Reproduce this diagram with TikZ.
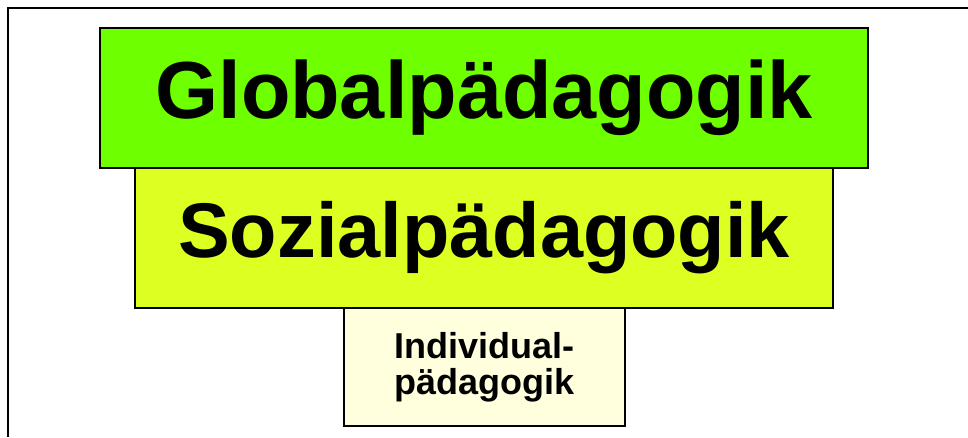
\documentclass[tikz,border=0pt]{standalone}
\usepackage{fontspec}
\setmainfont{Liberation Sans}
\definecolor{globalgreen}{RGB}{110,255,0}
\definecolor{sozialyellow}{RGB}{221,255,34}
\definecolor{indivcream}{RGB}{255,255,221}
\tikzset{
  levelbox/.style={draw=black, line width=2pt, inner sep=0pt, align=center, font=\bfseries},
  framestroke/.style={draw=black, line width=2pt}
}
\begin{document}
\begin{tikzpicture}[x=1pt,y=-1pt]
  \useasboundingbox (0,0) rectangle (968,437);
  % outer frame (open at right and bottom)
  \draw[framestroke] (8,437) -- (8,8) -- (968,8);
  % three stacked levels
  \node[levelbox, fill=globalgreen, minimum width=768pt, minimum height=140pt,
        font=\bfseries\fontsize{81}{90}\selectfont] (global) at (484,98) {Globalpädagogik};
  \node[levelbox, fill=sozialyellow, minimum width=698pt, minimum height=140pt,
        font=\bfseries\fontsize{77.5}{88}\selectfont] (sozial) at (484,238) {Sozialpädagogik};
  \node[levelbox, fill=indivcream, minimum width=281pt, minimum height=118pt,
        font=\bfseries\fontsize{36}{36}\selectfont] (indiv) at (484.5,367) {Individual-\\pädagogik};
\end{tikzpicture}
\end{document}
